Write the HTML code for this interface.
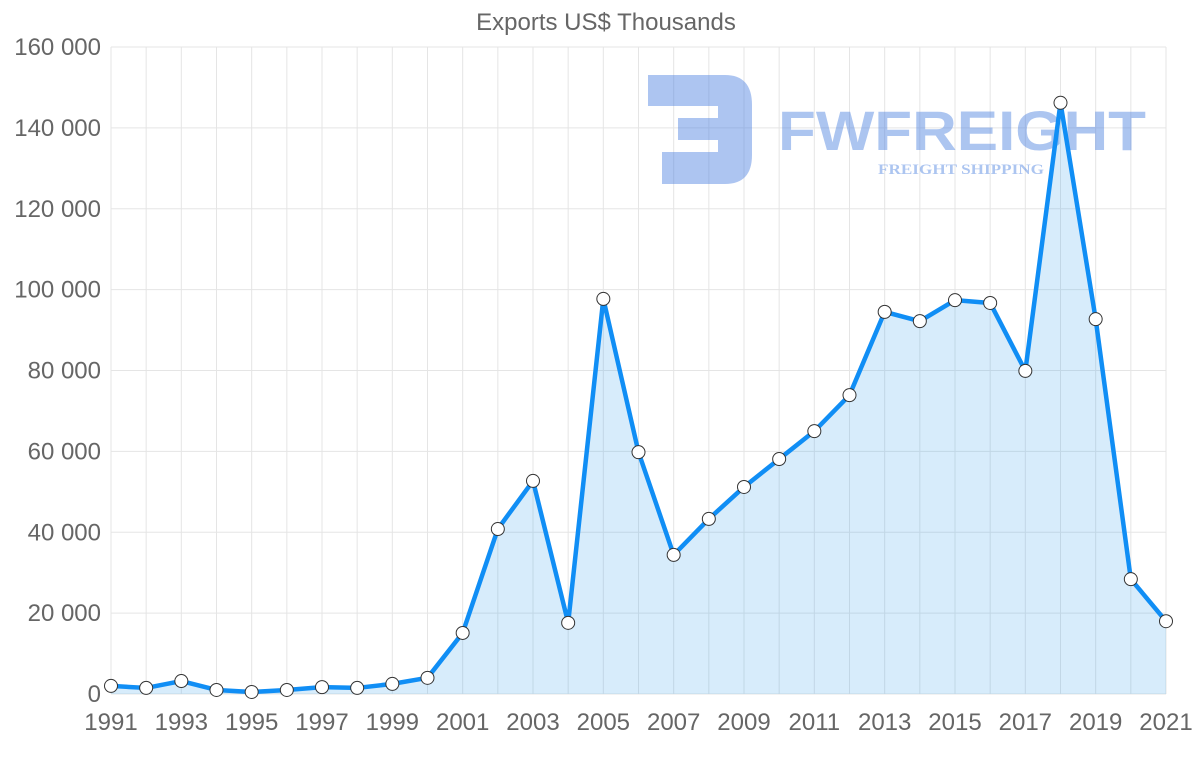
<!DOCTYPE html>
<html><head><meta charset="utf-8"><style>
body{margin:0;background:#fff;font-family:"Liberation Sans",sans-serif}
</style></head><body>
<svg id="chart" width="1200" height="763" xmlns="http://www.w3.org/2000/svg" font-family="Liberation Sans, sans-serif">
<text x="606" y="30" text-anchor="middle" font-size="24" fill="#666">Exports US$ Thousands</text>
<g id="grid"></g>
<g opacity="0.45">
<path d="M648 75 H725 Q752 75 752 105 V155 Q752 184 725 184 H662 V152 H718 V140 H678 V118 H718 V106 H648 Z" fill="#4a7fe0"/>
<text x="778" y="150" textLength="368" lengthAdjust="spacingAndGlyphs" font-size="56" font-weight="bold" fill="#4a7fe0">FWFREIGHT</text>
<text x="878" y="174" textLength="166" lengthAdjust="spacingAndGlyphs" font-size="15" font-weight="bold" font-family="Liberation Serif, serif" fill="#4a7fe0">FREIGHT SHIPPING</text>
</g>
<g id="series"></g>
<g id="labels"></g>
</svg>
<script>
const years=[1991,1992,1993,1994,1995,1996,1997,1998,1999,2000,2001,2002,2003,2004,2005,2006,2007,2008,2009,2010,2011,2012,2013,2014,2015,2016,2017,2018,2019,2020,2021];
const values=[2000,1500,3200,1000,500,1000,1700,1500,2500,4000,15100,40800,52700,17600,97700,59800,34400,43300,51200,58100,65000,73900,94500,92200,97400,96700,79900,146200,92700,28400,18000];
const yTicks=[0,20000,40000,60000,80000,100000,120000,140000,160000];
const yTickLabels=["0","20 000","40 000","60 000","80 000","100 000","120 000","140 000","160 000"];
const NS="http://www.w3.org/2000/svg";
const x0=111,x1=1166,yb=694,yt=47,ymax=160000;
const xs=i=>x0+(x1-x0)*i/(years.length-1);
const ys=v=>yb-(yb-yt)*v/ymax;
function mk(t,a,p){const e=document.createElementNS(NS,t);for(const k in a)e.setAttribute(k,a[k]);p.appendChild(e);return e;}
const grid=document.getElementById('grid'),ser=document.getElementById('series'),lab=document.getElementById('labels');
yTicks.forEach((v,i)=>{
 const l=mk('line',{x1:x0,x2:x1,y1:ys(v),y2:ys(v),stroke:'#e5e5e5','stroke-width':1},grid);
 
 
 const t=mk('text',{x:101,y:ys(v)+8,'text-anchor':'end','font-size':24,fill:'#666'},lab);
 t.textContent=yTickLabels[i];
 
 
});
years.forEach((y,i)=>{
 const l=mk('line',{x1:xs(i),x2:xs(i),y1:yt,y2:yb,stroke:'#e5e5e5','stroke-width':1},grid);
 
 
 if(i%2===0){
  const t=mk('text',{x:xs(i),y:730,'text-anchor':'middle','font-size':24,fill:'#666'},lab);
  t.textContent=y;
  
  
 }
});
let d=values.map((v,i)=>(i?'L':'M')+xs(i)+' '+ys(v)).join(' ');
const area=mk('path',{d:d+` L${xs(values.length-1)} ${yb} L${x0} ${yb} Z`,fill:'rgba(54,162,235,0.2)'},ser);


const line=mk('path',{d:d,fill:'none',stroke:'#108ef5','stroke-width':4.5,'stroke-linejoin':'round'},ser);


values.forEach((v,i)=>{
 const c=mk('circle',{cx:xs(i),cy:ys(v),r:6.5,fill:'#fff',stroke:'#333','stroke-width':1},ser);
 
 
});
</script>
</body></html>
